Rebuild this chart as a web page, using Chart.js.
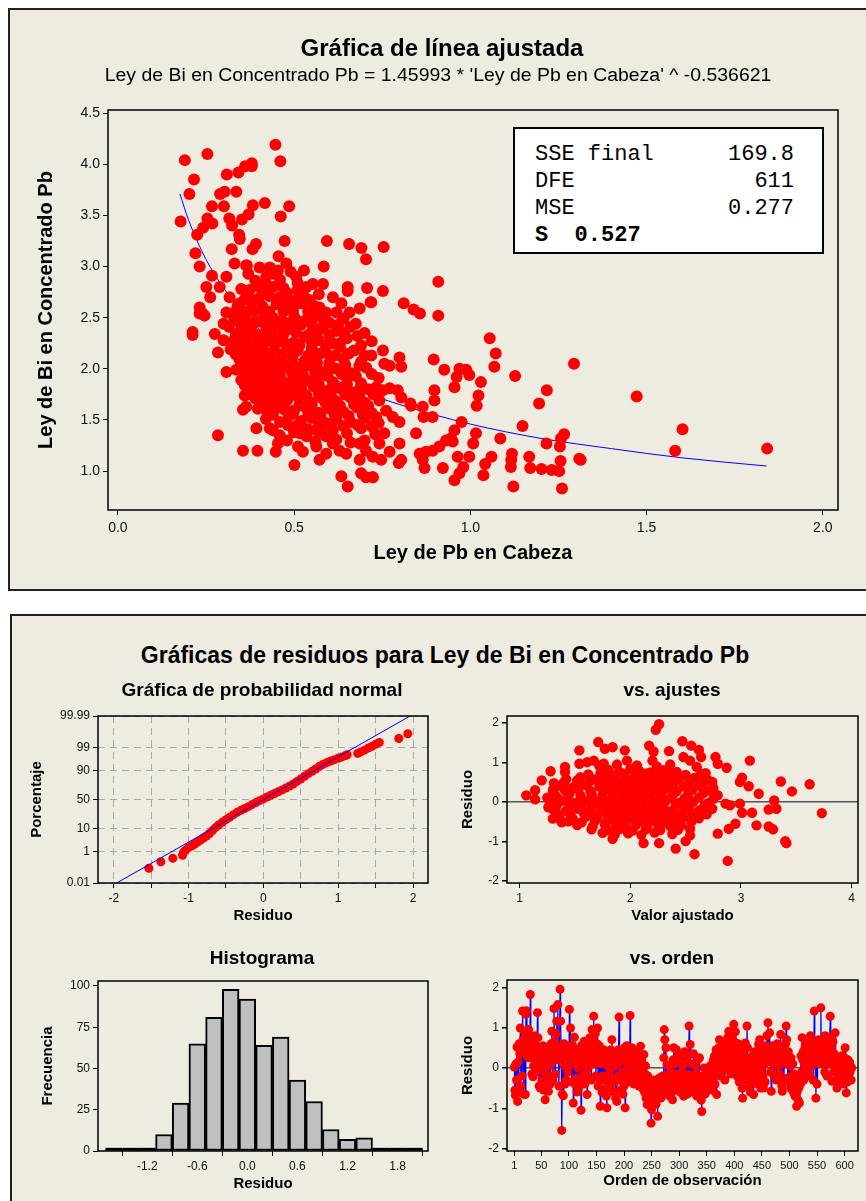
<!DOCTYPE html>
<html>
<head>
<meta charset="utf-8">
<script src="https://cdn.jsdelivr.net/npm/chart.js@4.4.1/dist/chart.umd.min.js"></script>
<style>
body{margin:0;width:866px;height:1201px;overflow:hidden;position:relative;background:#fff;font-family:'Liberation Sans',Arial,sans-serif;}
.panel{position:absolute;background:#EEEBE0;border:2px solid #222;box-sizing:border-box;}
#p1{left:8px;top:8px;width:900px;height:583px;}
#p2{left:10px;top:614px;width:900px;height:620px;}
canvas{position:absolute;}
.t{position:absolute;transform:translate(-50%,-50%);white-space:nowrap;color:#000;}
.big{font-weight:bold;font-size:24px;}
.big2{font-weight:bold;font-size:23px;}
.sub{font-size:18px;transform:translate(-50%,-50%) scaleX(1.08);}
.mid{font-weight:bold;font-size:19px;}
#stats{position:absolute;left:513px;top:127px;width:311px;height:127px;background:#fff;border:2px solid #000;box-sizing:border-box;font-family:'Liberation Mono','Courier New',monospace;font-size:22px;color:#000;}
#stats div{position:absolute;transform:translateY(-50%);white-space:pre;}
</style>
</head>
<body>
<div class="panel" id="p1"></div>
<div class="panel" id="p2"></div>

<canvas id="cAjuste" width="856" height="578" style="left:10px;top:10px"></canvas>
<canvas id="cNormal" width="430" height="230" style="left:12px;top:700px"></canvas>
<canvas id="cAjustes" width="424" height="230" style="left:442px;top:700px"></canvas>
<canvas id="cHist" width="430" height="236" style="left:12px;top:965px"></canvas>
<canvas id="cOrden" width="424" height="236" style="left:442px;top:965px"></canvas>

<div class="t big" style="left:442px;top:48px">Gráfica de línea ajustada</div>
<div class="t sub" style="left:438px;top:75px">Ley de Bi en Concentrado Pb = 1.45993 * 'Ley de Pb en Cabeza' ^ -0.536621</div>
<div id="stats">
  <div style="left:20px;top:25px">SSE final</div><div style="right:28px;top:25px">169.8</div>
  <div style="left:20px;top:52px">DFE</div><div style="right:28px;top:52px">611</div>
  <div style="left:20px;top:79px">MSE</div><div style="right:28px;top:79px">0.277</div>
  <div style="left:20px;top:106px;font-weight:bold">S  0.527</div>
</div>

<div class="t big2" style="left:445px;top:655px">Gráficas de residuos para Ley de Bi en Concentrado Pb</div>
<div class="t mid" style="left:262px;top:690px">Gráfica de probabilidad normal</div>
<div class="t mid" style="left:672px;top:690px">vs. ajustes</div>
<div class="t mid" style="left:262px;top:958px">Histograma</div>
<div class="t mid" style="left:672px;top:958px">vs. orden</div>

<script>
// ---------- datos ----------
// Ley de Pb en Cabeza vs Ley de Bi en Concentrado Pb
var puntosLey = [
 [0.447,4.19],[0.19,4.04],[0.254,4.10],[0.461,4.03],[0.216,3.85],[0.203,3.71],[0.178,3.44],
 [0.309,3.90],[0.342,3.92],[0.361,3.98],[0.38,4.01],[0.38,3.98],[0.336,3.73],[0.29,3.71],[0.303,3.73],
 [0.267,3.59],[0.301,3.59],[0.383,3.60],[0.417,3.62],[0.486,3.59],[0.462,3.49],[0.371,3.51],[0.352,3.46],
 [0.254,3.47],[0.268,3.42],[0.316,3.47],[0.324,3.40],[0.242,3.38],[0.225,3.31],[0.344,3.31],[0.346,3.27],
 [0.392,3.22],[0.382,3.17],[0.473,3.25],[0.593,3.25],[0.656,3.22],[0.691,3.18],[0.704,3.07],[0.323,3.17],
 [0.22,3.13],[0.456,3.10],[0.232,3.00],[0.366,3.01],[0.584,3.00],[0.528,2.96],[0.267,2.91],[0.251,2.80],
 [0.262,2.70],[0.652,2.80],[0.652,2.76],[0.707,2.79],[0.717,2.65],[0.232,2.60],[0.24,2.54],
 [0.308,2.90],[0.331,3.03],[0.364,3.01],[0.402,2.99],[0.431,2.99],[0.454,2.96],[0.478,3.03],[0.506,2.90],
 [0.535,2.80],[0.553,2.83],[0.582,2.83],[0.61,2.70],[0.634,2.64],[0.657,2.55],[0.686,2.59],[0.719,2.65],
 [0.289,2.80],[0.317,2.70],[0.346,2.64],[0.374,2.77],[0.402,2.80],[0.421,2.90],[0.44,2.80],[0.459,2.70],
 [0.478,2.64],[0.497,2.57],[0.516,2.70],[0.374,2.57],[0.336,2.57],[0.308,2.55],[0.572,2.60],[0.591,2.55],
 [0.754,3.19],[0.909,2.85],[0.752,2.76],[0.811,2.64],[0.839,2.58],[0.857,2.54],[0.909,2.52],[1.055,2.30],
 [1.072,2.15],[1.068,2.02],[1.127,1.93],[1.294,2.05],[1.217,1.79],[1.195,1.66],[1.148,1.44],[1.266,1.36],
 [1.257,1.32],[1.254,1.24],[1.216,1.27],[1.085,1.32],[1.309,1.12],[1.256,1.10],[1.252,1.00],[1.231,1.01],
 [1.202,1.02],[1.17,1.03],[1.167,1.14],[1.26,0.83],[1.122,0.85],[1.118,1.17],[1.116,1.11],[1.115,1.04],
 [1.06,1.14],[1.042,1.07],[1.037,0.96],[0.997,1.14],[0.98,1.04],[0.969,0.98],[0.955,0.91],[0.964,1.14],
 [1.016,1.37],[1.008,1.27],[0.975,1.48],[0.955,1.40],[0.945,1.32],[1.03,1.87],[1.023,1.74],[1.018,1.64],
 [0.969,2.00],[0.988,1.99],[0.997,1.94],[0.961,1.92],[0.955,1.82],[0.926,1.99],[0.896,2.09],[0.898,1.79],
 [0.898,1.69],[0.893,1.53],[0.865,1.63],[0.867,1.53],[0.832,1.64],[0.846,1.37],[0.931,1.30],[0.95,1.29],
 [0.912,1.24],[0.893,1.20],[0.874,1.19],[0.856,1.17],[0.865,1.11],[0.87,1.03],[0.922,1.03],[0.799,1.27],
 [0.804,1.11],[0.797,1.08],[0.771,1.19],[0.747,1.11],[0.742,1.27],[0.756,1.37],[0.723,0.94],[0.752,2.18],
 [0.756,2.05],[0.771,2.03],[0.799,2.11],[0.804,2.02],[0.719,2.13],[0.733,1.82],[0.752,1.79],[0.771,1.81],
 [0.794,1.79],[0.804,1.72],[0.742,1.69],[0.761,1.59],[0.78,1.53],[0.799,1.48],[0.733,1.53],[0.723,1.43],
 [0.83,1.66],[1.472,1.73],[1.602,1.41],[1.581,1.20],[1.842,1.22],[1.313,1.11],
 [0.212,2.36],[0.212,2.33],[0.275,2.34],[0.284,2.16],[0.308,1.97],[0.336,1.99],[0.232,2.54],[0.246,2.52],
 [0.284,1.35],[0.355,1.20],[0.396,1.20],[0.393,1.42],[0.431,1.42],[0.44,1.40],[0.459,1.35],[0.454,1.27],
 [0.448,1.19],[0.501,1.06],[0.511,1.24],[0.525,1.19],[0.572,1.11],[0.634,0.95],[0.652,0.85],[0.69,0.98],
 [0.704,0.94],[0.723,0.94],[0.36,1.74],[0.364,1.63],[0.355,1.60],[0.397,1.61],[0.421,1.60],[0.445,1.60],
 [0.473,1.60],[0.497,1.56],[0.482,1.45],[0.497,1.42],[0.516,1.37],[0.535,1.34],[0.563,1.40],[0.591,1.34],
 [0.61,1.27],[0.629,1.20],[0.563,1.24],[0.591,1.17],[0.648,1.17],[0.686,1.27],[0.704,1.20],[0.723,1.14],
 [0.686,1.11],
 [0.33,2.49],[0.36,2.52],[0.39,2.47],[0.415,2.53],[0.44,2.50],[0.47,2.46],[0.50,2.51],[0.535,2.48],
 [0.565,2.52],[0.60,2.45],[0.64,2.49],[0.675,2.44],
 [0.315,2.41],[0.35,2.38],[0.38,2.42],[0.42,2.37],[0.45,2.41],[0.485,2.39],[0.52,2.43],[0.55,2.36],
 [0.58,2.40],[0.62,2.37],[0.66,2.41],[0.70,2.35],
 [0.33,2.28],[0.365,2.31],[0.40,2.27],[0.43,2.32],[0.46,2.29],[0.50,2.26],[0.53,2.31],[0.57,2.28],
 [0.61,2.25],[0.65,2.30],[0.72,2.27],
 [0.32,2.19],[0.35,2.22],[0.385,2.18],[0.41,2.21],[0.445,2.17],[0.48,2.22],[0.51,2.18],[0.55,2.20],
 [0.59,2.16],[0.63,2.21],[0.67,2.18],
 [0.345,2.09],[0.37,2.12],[0.40,2.08],[0.43,2.11],[0.46,2.07],[0.495,2.12],[0.53,2.08],[0.56,2.11],
 [0.60,2.06],[0.64,2.10],[0.69,2.07],
 [0.36,2.01],[0.39,1.98],[0.42,2.02],[0.45,1.97],[0.48,2.01],[0.51,1.99],[0.545,2.03],[0.58,1.97],
 [0.62,2.00],[0.66,1.96],[0.705,2.01],
 [0.35,1.89],[0.38,1.92],[0.41,1.88],[0.44,1.91],[0.47,1.87],[0.50,1.91],[0.54,1.88],[0.57,1.92],
 [0.61,1.87],[0.65,1.90],[0.69,1.86],[0.74,1.91],
 [0.37,1.79],[0.40,1.82],[0.43,1.78],[0.46,1.81],[0.49,1.77],[0.52,1.80],[0.555,1.83],[0.59,1.78],
 [0.63,1.81],[0.67,1.77],[0.71,1.80],
 [0.39,1.71],[0.42,1.68],[0.45,1.72],[0.48,1.69],[0.51,1.73],[0.55,1.67],[0.58,1.71],[0.62,1.68],
 [0.66,1.72],[0.70,1.67],
 [0.43,1.58],[0.47,1.62],[0.50,1.59],[0.53,1.63],[0.57,1.57],[0.60,1.61],[0.64,1.58],[0.68,1.62],[0.72,1.57],
 [0.42,1.51],[0.46,1.48],[0.52,1.49],[0.55,1.52],[0.59,1.47],[0.62,1.51],[0.66,1.48],[0.70,1.52],[0.74,1.47],
 [0.50,1.38],[0.54,1.41],[0.58,1.37],[0.61,1.40],[0.65,1.37],[0.69,1.42],[0.73,1.36],
 [0.48,1.30],[0.56,1.29],[0.62,1.31],[0.66,1.28],[0.70,1.30],
 [0.34,2.62],[0.38,2.66],[0.41,2.61],[0.45,2.63],[0.49,2.60],[0.52,2.64],[0.56,2.61],[0.37,2.72],
 [0.43,2.71],[0.48,2.74],[0.53,2.70],[0.57,2.73],[0.39,2.86],[0.42,2.83],[0.46,2.87],[0.51,2.84],
 [0.345,2.45],[0.375,2.44],[0.405,2.46],[0.43,2.44],[0.455,2.46],[0.49,2.44],[0.515,2.46],[0.55,2.44],
 [0.585,2.46],[0.625,2.43],
 [0.335,2.34],[0.37,2.36],[0.395,2.33],[0.435,2.35],[0.47,2.34],[0.505,2.36],[0.54,2.33],[0.565,2.35],
 [0.60,2.33],[0.64,2.35],[0.68,2.32],
 [0.345,2.25],[0.375,2.24],[0.415,2.26],[0.445,2.24],[0.475,2.25],[0.515,2.23],[0.55,2.26],[0.59,2.23],
 [0.63,2.25],[0.69,2.23],
 [0.335,2.14],[0.365,2.16],[0.395,2.13],[0.425,2.15],[0.465,2.14],[0.50,2.16],[0.54,2.13],[0.575,2.15],
 [0.615,2.13],[0.655,2.15],[0.70,2.13],
 [0.355,2.05],[0.38,2.04],[0.41,2.06],[0.44,2.03],[0.47,2.05],[0.50,2.04],[0.53,2.03],[0.565,2.06],
 [0.60,2.03],[0.645,2.04],[0.685,2.03],
 [0.365,1.95],[0.40,1.94],[0.43,1.96],[0.46,1.93],[0.495,1.95],[0.525,1.94],[0.56,1.96],[0.595,1.93],
 [0.635,1.95],[0.675,1.93],[0.72,1.95],
 [0.36,1.84],[0.39,1.86],[0.425,1.85],[0.455,1.84],[0.485,1.86],[0.515,1.84],[0.57,1.85],[0.61,1.84],
 [0.65,1.85],[0.69,1.83],
 [0.38,1.75],[0.41,1.74],[0.44,1.76],[0.47,1.74],[0.50,1.76],[0.535,1.74],[0.57,1.76],[0.605,1.74],
 [0.645,1.75],[0.685,1.74],[0.725,1.75],
 [0.41,1.65],[0.44,1.64],[0.465,1.66],[0.515,1.65],[0.55,1.64],[0.59,1.66],[0.63,1.64],[0.67,1.65],[0.71,1.64],
 [0.44,1.55],[0.485,1.54],[0.54,1.55],[0.575,1.54],[0.615,1.55],[0.655,1.54],[0.695,1.55],
 [0.51,1.45],[0.57,1.44],[0.605,1.46],[0.64,1.44],[0.68,1.45],[0.72,1.44],
 [0.35,2.56],[0.385,2.57],[0.43,2.56],[0.47,2.56],[0.54,2.56],[0.62,2.55],
 [0.36,2.68],[0.40,2.69],[0.46,2.68],[0.505,2.67],[0.545,2.67],[0.35,2.78],[0.41,2.77],[0.47,2.79],
 [0.51,2.77],[0.37,2.93],[0.44,2.93],[0.49,2.95],[0.30,2.28],[0.30,2.44]
];
// linea ajustada
var curvaAjuste = [[0.176,3.71],[0.2,3.46],[0.25,3.07],[0.3,2.79],[0.35,2.57],[0.4,2.39],[0.5,2.12],
 [0.6,1.92],[0.7,1.77],[0.8,1.65],[1.0,1.46],[1.2,1.32],[1.4,1.22],[1.6,1.13],[1.84,1.05]];
var ticksPb = [0, 0.5, 1.0, 1.5, 2.0];
var ticksBi = [1.0, 1.5, 2.0, 2.5, 3.0, 3.5, 4.0, 4.5];

// grafica de probabilidad normal: [residuo, porcentaje]
var probNormal = [
 [-1.53,0.11],[-1.37,0.28],[-1.21,0.44],[-1.08,0.65],[-1.07,0.9],[-1.04,1.2],[-1.0,1.6],[-0.96,1.9],
 [-0.92,2.3],[-0.88,2.9],[-0.84,3.5],[-0.80,4.3],[-0.76,5.2],[-0.72,6.5],[-0.68,8.3],[-0.64,10.5],
 [-0.60,12.8],[-0.55,15.5],[-0.50,18.5],[-0.45,21.5],[-0.40,25],[-0.35,28.5],[-0.30,31.5],[-0.25,34.5],
 [-0.20,37.5],[-0.15,41],[-0.10,44.5],[-0.05,48],[0.00,51],[0.05,54.5],[0.10,57.5],[0.15,60.5],
 [0.20,63.5],[0.25,66.5],[0.30,69.5],[0.35,72.5],[0.40,75.5],[0.45,79],[0.50,82],[0.55,85],
 [0.60,87.5],[0.65,89.5],[0.70,91.3],[0.75,93],[0.80,94.2],[0.85,95],[0.90,95.7],[0.95,96.2],
 [1.00,96.7],[1.05,97.1],[1.10,97.5],[1.12,97.7],[1.26,98.0],[1.30,98.3],[1.35,98.6],[1.40,98.9],
 [1.45,99.1],[1.50,99.3],[1.55,99.45],[1.81,99.67],[1.93,99.83]
];
var lineaNormal = [[-1.96,0.01],[1.96,99.99]];
var ticksPorcentaje = [0.01, 1, 10, 50, 90, 99, 99.99];

// vs. ajustes: [valor ajustado, residuo]
var ajusteResiduo = [
 [1.06,0.17],[1.14,0.30],[1.14,0.07],[1.20,0.55],[1.28,0.78],[1.31,0.48],[1.28,0.13],[1.26,-0.13],
 [1.30,-0.42],[1.38,-0.51],[1.35,0.08],[1.41,0.89],[1.41,0.76],[1.46,0.30],[1.54,1.31],[1.52,0.55],
 [1.54,0.97],[1.61,1.01],[1.67,1.05],[1.71,1.52],[1.76,0.97],[1.77,1.35],[1.84,1.39],[1.95,1.31],
 [1.97,1.05],[2.17,1.43],[2.20,1.05],[2.21,1.28],[2.23,1.83],[2.26,1.97],[2.35,1.29],[2.47,1.54],
 [2.48,1.14],[2.55,1.43],[2.54,1.05],[2.62,1.32],[2.64,1.14],[2.60,0.89],[2.68,0.73],[2.77,1.14],
 [2.79,0.97],[2.74,0.51],[2.87,0.87],[2.79,0.17],[2.86,-0.04],[2.90,-0.08],[2.99,-0.04],[2.99,0.51],
 [3.01,0.62],[3.07,0.40],[3.08,1.05],[3.01,-0.27],[3.10,-0.27],[2.95,-0.55],[2.89,-0.68],[2.88,-1.49],
 [2.79,-0.80],[3.16,0.21],[3.14,-0.59],[3.25,-0.19],[3.25,-0.62],[3.29,-0.69],[3.30,0.04],[3.32,-0.17],
 [3.36,0.52],[3.40,-0.99],[3.41,-1.04],[3.46,0.27],[3.62,0.45],[3.73,-0.28],[2.58,-1.32],[2.50,-0.99],
 [2.41,-1.18],[2.26,-1.04],[2.12,-1.04],[1.84,-0.93],[2.54,-0.84],[2.54,-0.68],
 [1.80,0.82],[1.90,0.77],[2.00,0.84],[2.08,0.79],[2.18,0.75],[2.30,0.81],[2.42,0.76],
 [1.42,0.58],[1.55,0.63],[1.68,0.57],[1.78,0.62],[1.86,0.56],[1.95,0.64],[2.03,0.59],[2.12,0.61],
 [2.22,0.57],[2.32,0.63],[2.44,0.58],[2.58,0.61],[2.70,0.56],
 [1.35,0.41],[1.48,0.37],[1.60,0.43],[1.72,0.39],[1.82,0.42],[1.90,0.36],[1.98,0.44],[2.06,0.38],
 [2.15,0.41],[2.25,0.37],[2.36,0.43],[2.48,0.39],[2.62,0.42],[2.75,0.36],
 [1.32,0.18],[1.45,0.22],[1.55,0.17],[1.65,0.21],[1.75,0.19],[1.84,0.23],[1.93,0.17],[2.01,0.21],
 [2.10,0.18],[2.19,0.22],[2.28,0.16],[2.39,0.21],[2.52,0.19],[2.66,0.23],[2.78,0.18],
 [1.28,-0.02],[1.38,0.03],[1.50,-0.03],[1.60,0.02],[1.70,-0.01],[1.79,0.03],[1.88,-0.02],[1.96,0.01],
 [2.04,-0.03],[2.13,0.02],[2.22,-0.01],[2.32,0.03],[2.44,-0.02],[2.57,0.01],[2.70,-0.03],
 [1.30,-0.18],[1.42,-0.22],[1.53,-0.17],[1.64,-0.21],[1.74,-0.19],[1.83,-0.23],[1.92,-0.18],[2.00,-0.21],
 [2.09,-0.17],[2.18,-0.22],[2.27,-0.19],[2.37,-0.23],[2.49,-0.18],[2.62,-0.21],[2.74,-0.17],
 [1.36,-0.38],[1.48,-0.42],[1.60,-0.37],[1.70,-0.41],[1.80,-0.43],[1.89,-0.38],[1.98,-0.42],[2.07,-0.37],
 [2.16,-0.41],[2.26,-0.39],[2.36,-0.43],[2.48,-0.38],[2.62,-0.41],
 [1.52,-0.58],[1.66,-0.62],[1.77,-0.57],[1.87,-0.61],[1.96,-0.63],[2.05,-0.58],[2.15,-0.62],[2.25,-0.57],
 [2.36,-0.61],[2.46,-0.59],
 [1.75,-0.78],[1.86,-0.82],[1.98,-0.79],[2.10,-0.83],[2.22,-0.77],[2.38,-0.81],
 [1.62,0.70],[1.73,0.72],[1.85,0.68],[1.94,0.71],[2.04,0.69],[2.14,0.72],[2.26,0.68],[2.37,0.71],
 [2.50,0.69],[2.64,0.72],
 [1.40,0.50],[1.52,0.48],[1.63,0.52],[1.74,0.49],[1.83,0.51],[1.91,0.48],[2.00,0.52],[2.09,0.49],
 [2.18,0.51],[2.28,0.48],[2.40,0.52],[2.53,0.49],[2.66,0.51],
 [1.30,0.31],[1.41,0.29],[1.53,0.32],[1.64,0.28],[1.77,0.31],[1.86,0.29],[1.95,0.32],[2.04,0.28],
 [2.12,0.31],[2.21,0.29],[2.31,0.32],[2.42,0.28],[2.56,0.31],[2.70,0.29],
 [1.25,0.11],[1.33,0.09],[1.44,0.12],[1.55,0.08],[1.66,0.11],[1.75,0.09],[1.84,0.12],[1.93,0.08],
 [2.01,0.11],[2.09,0.09],[2.18,0.12],[2.27,0.08],[2.37,0.11],[2.49,0.09],[2.62,0.12],[2.75,0.08],
 [1.33,-0.11],[1.45,-0.09],[1.56,-0.12],[1.66,-0.08],[1.76,-0.11],[1.85,-0.09],[1.93,-0.12],[2.02,-0.08],
 [2.11,-0.11],[2.20,-0.09],[2.30,-0.12],[2.41,-0.08],[2.53,-0.11],[2.67,-0.09],
 [1.34,-0.29],[1.46,-0.31],[1.58,-0.28],[1.68,-0.32],[1.78,-0.29],[1.87,-0.31],[1.96,-0.28],[2.05,-0.32],
 [2.14,-0.29],[2.23,-0.31],[2.33,-0.28],[2.44,-0.32],[2.56,-0.29],[2.69,-0.31],
 [1.44,-0.49],[1.56,-0.51],[1.68,-0.48],[1.78,-0.52],[1.87,-0.49],[1.95,-0.51],[2.04,-0.48],[2.13,-0.52],
 [2.22,-0.49],[2.32,-0.51],[2.43,-0.48],[2.55,-0.5],
 [1.65,-0.69],[1.79,-0.71],[1.91,-0.68],[2.02,-0.72],[2.14,-0.69],[2.27,-0.71],[2.43,-0.7],
 [1.72,0.92],[1.88,0.95],[2.06,0.93],[2.24,0.9],[2.36,0.95]
];

// histograma: centros de clase y frecuencias
var clasesResiduo = [-1.6,-1.4,-1.2,-1.0,-0.8,-0.6,-0.4,-0.2,0.0,0.2,0.4,0.6,0.8,1.0,1.2,1.4,1.6,1.8,2.0];
var frecuencias   = [1,1,1,10,29,65,81,98,92,64,69,43,30,13,7,8,1,1,1];
var ticksHist = [-1.2,-0.6,0.0,0.6,1.2,1.8];

// vs. orden: residuo de cada observacion (1..613)
var residuosOrden = [
 0.02,-0.55,-0.68,0.1,-0.3,0.52,-0.83,0.15,-0.6,0.6,
 0.35,0.99,-0.45,0.55,-0.2,1.41,0.7,-0.65,0.9,0.4,
 -0.66,1.33,1.42,0.3,0.75,0.25,0.95,0.55,0.35,1.82,
 0.6,0.25,-0.15,0.7,-0.22,0.05,0.4,0.8,0.3,-0.1,
 0.55,0.05,1.37,0.75,0.15,-0.45,0.35,-0.5,0.0,0.45,
 -0.3,0.1,0.55,-0.55,0.2,-0.1,-0.79,0.5,0.15,-0.35,
 0.35,-0.2,-0.58,0.4,0.05,-0.4,0.3,0.6,0.91,0.55,
 -0.3,0.2,1.47,0.65,-0.15,0.35,0.85,1.16,0.45,1.57,
 0.2,-0.45,0.5,1.95,1.16,0.4,-1.55,-0.65,0.3,-0.69,
 0.6,0.05,-0.4,0.45,-0.3,0.2,0.55,-0.1,0.35,0.1,
 1.45,0.5,0.99,0.2,-0.35,0.4,0.55,-0.87,0.1,0.76,
 -0.4,0.25,-0.25,0.45,-0.6,0.0,0.3,-0.5,0.15,-0.3,
 0.35,-1.05,0.55,-0.2,0.58,0.1,0.3,0.66,-0.4,0.2,
 -0.1,0.45,-0.66,0.3,0.0,0.5,-0.25,0.75,0.2,0.6,
 -0.3,0.95,0.4,0.7,1.28,0.5,0.1,0.85,-0.2,0.3,
 0.6,0.99,-0.45,0.2,0.55,-0.3,-0.95,0.1,0.4,-0.6,
 0.25,-0.2,0.45,-0.55,0.1,-0.3,0.35,-0.7,-0.99,0.05,
 -0.4,0.3,-0.15,0.2,-0.5,0.45,0.0,0.7,-0.3,0.15,
 -0.6,0.25,-0.35,0.05,-0.75,0.3,-0.83,0.1,-0.2,0.45,
 1.26,-0.3,0.15,-0.55,0.35,-0.1,0.2,-0.65,0.4,-0.45,
 0.5,-0.99,0.25,-0.2,0.55,0.05,-0.35,0.3,0.45,-0.15,
 1.30,0.2,-0.3,0.5,0.1,-0.25,0.35,-0.4,0.15,-0.1,
 0.05,0.4,-0.3,0.25,-0.2,0.1,-0.45,0.3,0.0,0.54,
 -0.25,0.2,-0.5,0.1,-0.3,0.33,-0.6,-0.15,0.05,-0.75,
 -0.4,-0.91,-0.2,-0.55,-0.7,-0.3,-0.85,-0.5,-1.37,-1.04,
 -0.65,-0.4,-0.8,-0.55,-0.3,-0.7,-0.45,-0.9,-0.6,-0.35,
 -1.20,-0.5,-0.7,-0.25,-0.6,-0.4,-0.75,-0.3,-0.55,-0.2,
 -0.65,0.25,0.95,0.7,-0.45,0.5,-0.3,0.08,-0.6,-0.2,
 -0.5,-0.35,-0.7,-0.1,-0.45,-0.25,-0.6,-0.79,0.2,0.5,
 -0.3,0.1,-0.55,-0.15,0.45,-0.4,-0.2,0.3,0.33,-0.5,
 -0.25,-0.6,0.2,-0.35,-0.1,-0.45,0.05,-0.7,-0.3,0.4,
 -0.5,-0.2,0.15,-0.4,-0.65,0.3,-0.15,1.04,-0.35,0.58,
 -0.25,-0.55,0.1,-0.4,-0.2,0.35,-0.6,-0.3,0.05,-0.45,
 -0.15,-0.7,-0.35,0.2,-0.5,-0.25,0.25,-0.6,-0.3,-0.8,
 -1.08,-0.45,-0.2,-0.55,0.0,-0.35,-0.65,-0.25,-0.5,-0.1,
 -0.4,-0.3,-0.5,-0.15,-0.45,0.05,-0.35,-0.2,-0.55,0.1,
 -0.25,0.2,-0.1,0.3,-0.41,0.15,0.45,-0.66,0.25,0.0,
 0.35,0.5,0.70,0.1,-0.2,0.4,0.2,0.55,-0.05,0.41,
 0.3,0.6,-0.3,0.15,0.5,-0.04,0.35,0.75,0.2,0.91,
 0.45,0.1,0.6,-0.15,0.3,0.8,0.5,0.2,1.08,0.65,
 0.35,0.9,0.0,0.5,-0.2,0.3,0.6,0.15,-0.35,0.4,
 0.1,-0.25,0.2,-0.5,-0.75,0.3,-0.1,0.45,0.05,0.62,
 -0.3,0.2,1.04,0.5,-0.15,0.1,-0.45,0.25,-0.6,0.0,
 0.15,-0.35,0.3,-0.2,-0.66,0.05,0.4,-0.3,0.2,-0.1,
 0.35,-0.4,0.1,0.58,-0.25,0.7,0.2,-0.5,0.45,0.0,
 0.3,-0.2,-0.5,0.4,0.1,-0.35,0.55,0.25,0.8,0.15,
 1.12,0.5,0.2,0.87,0.4,-0.1,-0.58,0.3,0.55,0.1,
 0.35,-0.2,0.5,0.2,0.45,-0.3,0.15,0.6,0.25,0.05,
 0.4,-0.15,0.3,0.83,0.1,-0.45,-0.58,0.2,0.5,-0.3,
 0.35,0.15,0.6,1.04,0.70,0.2,-0.25,0.4,0.1,-0.35,
 0.05,-0.5,0.25,-0.2,-0.4,0.1,-0.6,-0.3,-0.15,-0.7,
 -0.45,-0.2,-0.95,-0.6,-0.35,-0.8,-0.5,-0.87,-0.25,-0.4,
 0.3,-0.1,0.75,0.2,0.4,-0.3,0.1,0.5,0.62,0.0,
 0.25,-0.2,0.35,0.1,0.6,-0.15,0.3,0.8,0.05,0.45,
 0.2,0.65,-0.3,0.3,1.41,0.1,0.5,-0.75,0.25,-0.4,
 0.55,0.2,0.7,0.35,0.15,0.45,1.49,0.3,0.6,0.1,
 0.4,0.66,0.2,-0.1,0.8,0.35,0.55,-0.2,0.45,0.25,
 0.6,0.1,0.75,1.28,0.3,0.5,-0.33,0.2,0.65,-0.1,
 0.35,0.05,0.87,0.3,0.15,-0.5,0.25,0.1,-0.2,0.05,
 0.2,-0.3,0.1,-0.15,0.3,0.0,-0.4,0.15,-0.1,0.25,
 0.5,-0.2,-0.62,0.1,-0.35,0.2,0.05,-0.25,0.15,-0.1,0.05,-0.3,0.0
];
var ticksOrden = [1,50,100,150,200,250,300,350,400,450,500,550,600];
var ticksResiduo = [-2,-1,0,1,2];

// ---------- utilidades ----------
var ROJO = '#FF0000', AZUL = '#0000FF';
Chart.defaults.font.family = "'Liberation Sans', Arial, sans-serif";
Chart.defaults.color = '#000';

// escala de probabilidad normal (cuantil)
function probit(p) {
  var a=[-39.69683028665376,220.9460984245205,-275.9285104469687,138.3577518672690,-30.66479806614716,2.506628277459239];
  var b=[-54.47609879822406,161.5858368580409,-155.6989798598866,66.80131188771972,-13.28068155288572];
  var c=[-0.007784894002430293,-0.3223964580411365,-2.400758277161838,-2.549732539343734,4.374664141464968,2.938163982698783];
  var d=[0.007784695709041462,0.3224671290700398,2.445134137142996,3.754408661907416];
  var q, r;
  if (p < 0.02425) {
    q = Math.sqrt(-2*Math.log(p));
    return (((((c[0]*q+c[1])*q+c[2])*q+c[3])*q+c[4])*q+c[5])/((((d[0]*q+d[1])*q+d[2])*q+d[3])*q+1);
  }
  if (p <= 1-0.02425) {
    q = p-0.5; r = q*q;
    return (((((a[0]*r+a[1])*r+a[2])*r+a[3])*r+a[4])*r+a[5])*q/(((((b[0]*r+b[1])*r+b[2])*r+b[3])*r+b[4])*r+1);
  }
  q = Math.sqrt(-2*Math.log(1-p));
  return -(((((c[0]*q+c[1])*q+c[2])*q+c[3])*q+c[4])*q+c[5])/((((d[0]*q+d[1])*q+d[2])*q+d[3])*q+1);
}
function zPct(v) { return probit(v/100); }

// marco negro alrededor del area de trazado
var marco = {
  id: 'marco',
  afterDraw: function(chart) {
    var a = chart.chartArea, ctx = chart.ctx;
    ctx.save();
    ctx.strokeStyle = '#000';
    ctx.lineWidth = 1.5;
    ctx.strokeRect(a.left, a.top, a.right - a.left, a.bottom - a.top);
    ctx.restore();
  }
};

// las barras muy bajas se ven como una raya negra gruesa (como en Minitab)
var barrasBajas = {
  id: 'barrasBajas',
  afterDatasetsDraw: function(chart) {
    var ctx = chart.ctx;
    chart.getDatasetMeta(0).data.forEach(function(el) {
      if (el.base - el.y < 4) {
        ctx.save();
        ctx.fillStyle = '#000';
        ctx.fillRect(el.x - el.width / 2, el.y - 1.5, el.width, el.base - el.y + 1.5);
        ctx.restore();
      }
    });
  }
};

function eje(opts) {
  return {
    type: 'linear',
    min: opts.min, max: opts.max,
    afterBuildTicks: function(s) { s.ticks = opts.ticks.map(function(v){ return {value: v}; }); },
    afterFit: function(s) { if (s.isHorizontal()) s.height = opts.size; else s.width = opts.size; },
    ticks: {
      autoSkip: false, maxRotation: 0, color: '#111', padding: opts.tickPad || 3,
      font: {size: opts.tickSize || 12},
      callback: opts.fmt || function(v){ return v; }
    },
    grid: opts.grid || {drawOnChartArea: false, tickLength: 5, color: '#000'},
    border: opts.border || {display: false},
    title: {
      display: true, text: opts.title, color: '#000',
      font: {size: opts.titleSize || 15, weight: 'bold'},
      padding: opts.titlePad
    }
  };
}

function baseOpts(pad, scales) {
  return {
    responsive: false, animation: false,
    layout: {padding: pad},
    plugins: {legend: {display: false}, tooltip: {enabled: false}},
    scales: scales
  };
}

function pares(arr) { return arr.map(function(p){ return {x: p[0], y: p[1]}; }); }

// ---------- grafica de linea ajustada ----------
new Chart(document.getElementById('cAjuste'), {
  type: 'scatter',
  data: {
    datasets: [
      {data: pares(puntosLey), backgroundColor: ROJO, borderColor: ROJO, pointRadius: 6, pointBorderWidth: 0},
      {type: 'line', data: pares(curvaAjuste), borderColor: AZUL, borderWidth: 1, pointRadius: 0,
       cubicInterpolationMode: 'monotone', fill: false}
    ]
  },
  options: baseOpts({left: 10, right: 28, top: 100, bottom: 0}, {
    x: eje({min: -0.028, max: 2.043, ticks: ticksPb, size: 78, tickSize: 14, tickPad: 5,
            fmt: function(v){ return v.toFixed(1); },
            title: 'Ley de Pb en Cabeza', titleSize: 20, titlePad: {top: 0, bottom: 23}}),
    y: eje({min: 0.62, max: 4.53, ticks: ticksBi, size: 88, tickSize: 14, tickPad: 3,
            fmt: function(v){ return v.toFixed(1); },
            title: 'Ley de Bi en Concentrado Pb', titleSize: 20, titlePad: {top: 14, bottom: 0}})
  }),
  plugins: [marco]
});

// ---------- grafica de probabilidad normal ----------
var rejilla = {drawOnChartArea: true, tickLength: 5, color: '#a8a8a8', tickColor: '#000', lineWidth: 1};
new Chart(document.getElementById('cNormal'), {
  type: 'scatter',
  data: {
    datasets: [
      {type: 'line', data: lineaNormal.map(function(p){ return {x: p[0], y: zPct(p[1])}; }),
       borderColor: AZUL, borderWidth: 1, pointRadius: 0, fill: false},
      {data: probNormal.map(function(p){ return {x: p[0], y: zPct(p[1])}; }),
       backgroundColor: ROJO, borderColor: ROJO, pointRadius: 4.5, pointBorderWidth: 0}
    ]
  },
  options: baseOpts({left: 10, right: 14, top: 16, bottom: 0}, {
    x: eje({min: -2.21, max: 2.2, ticks: [-2,-1.5,-1,-0.5,0,0.5,1,1.5,2], size: 47,
            fmt: function(v){ return Number.isInteger(v) ? String(v) : ''; },
            title: 'Residuo', titlePad: {top: 0, bottom: 5},
            grid: rejilla, border: {display: false, dash: [7, 5]}}),
    y: eje({min: zPct(0.01), max: zPct(99.99), ticks: ticksPorcentaje.map(zPct), size: 76,
            fmt: function(v, i){ return String(ticksPorcentaje[i]); },
            title: 'Porcentaje', titlePad: {top: 6, bottom: 0},
            grid: rejilla, border: {display: false, dash: [7, 5]}})
  }),
  plugins: [marco]
});

// linea de referencia en cero
var gridCero = {drawOnChartArea: true, tickLength: 5, tickColor: '#000', lineWidth: 1.5,
  color: function(c){ return c.tick && c.tick.value === 0 ? '#555' : 'rgba(0,0,0,0)'; }};

// ---------- vs. ajustes ----------
new Chart(document.getElementById('cAjustes'), {
  type: 'scatter',
  data: {datasets: [{data: pares(ajusteResiduo), backgroundColor: ROJO, borderColor: ROJO,
                     pointRadius: 5.2, pointBorderWidth: 0}]},
  options: baseOpts({left: 10, right: 8, top: 16, bottom: 0}, {
    x: eje({min: 0.886, max: 4.057, ticks: [1,2,3,4], size: 47,
            title: 'Valor ajustado', titlePad: {top: 0, bottom: 5}}),
    y: eje({min: -2.05, max: 2.18, ticks: ticksResiduo, size: 55,
            title: 'Residuo', titlePad: {top: 7, bottom: 0}, grid: gridCero})
  }),
  plugins: [marco]
});

// ---------- histograma ----------
new Chart(document.getElementById('cHist'), {
  type: 'bar',
  data: {datasets: [{
    data: clasesResiduo.map(function(c, i){ return {x: c, y: frecuencias[i]}; }),
    backgroundColor: '#C0C0C0', borderColor: '#000', borderWidth: 2,
    barPercentage: 1, categoryPercentage: 1, borderSkipped: false
  }]},
  options: baseOpts({left: 10, right: 14, top: 16, bottom: 0}, {
    x: Object.assign(eje({min: -1.79, max: 2.165, ticks: ticksHist, size: 50,
            fmt: function(v){ return v.toFixed(1); },
            title: 'Residuo', titlePad: {top: 0, bottom: 8}}), {offset: false}),
    y: eje({min: 0, max: 103, ticks: [0,25,50,75,100], size: 76,
            title: 'Frecuencia', titlePad: {top: 17, bottom: 0}})
  }),
  plugins: [marco, barrasBajas]
});

// ---------- vs. orden ----------
new Chart(document.getElementById('cOrden'), {
  type: 'line',
  data: {datasets: [{
    data: residuosOrden.map(function(r, i){ return {x: i + 1, y: r}; }),
    borderColor: AZUL, borderWidth: 1.2, backgroundColor: ROJO,
    pointBackgroundColor: ROJO, pointBorderWidth: 0, pointRadius: 4.5, fill: false, tension: 0
  }]},
  options: baseOpts({left: 10, right: 8, top: 15, bottom: 0}, {
    x: eje({min: -12.2, max: 624.3, ticks: ticksOrden, size: 50, tickSize: 11,
            title: 'Orden de observación', titlePad: {top: 0, bottom: 11}}),
    y: eje({min: -2.06, max: 2.18, ticks: ticksResiduo, size: 55,
            title: 'Residuo', titlePad: {top: 7, bottom: 0}, grid: gridCero})
  }),
  plugins: [marco]
});
</script>
</body>
</html>
